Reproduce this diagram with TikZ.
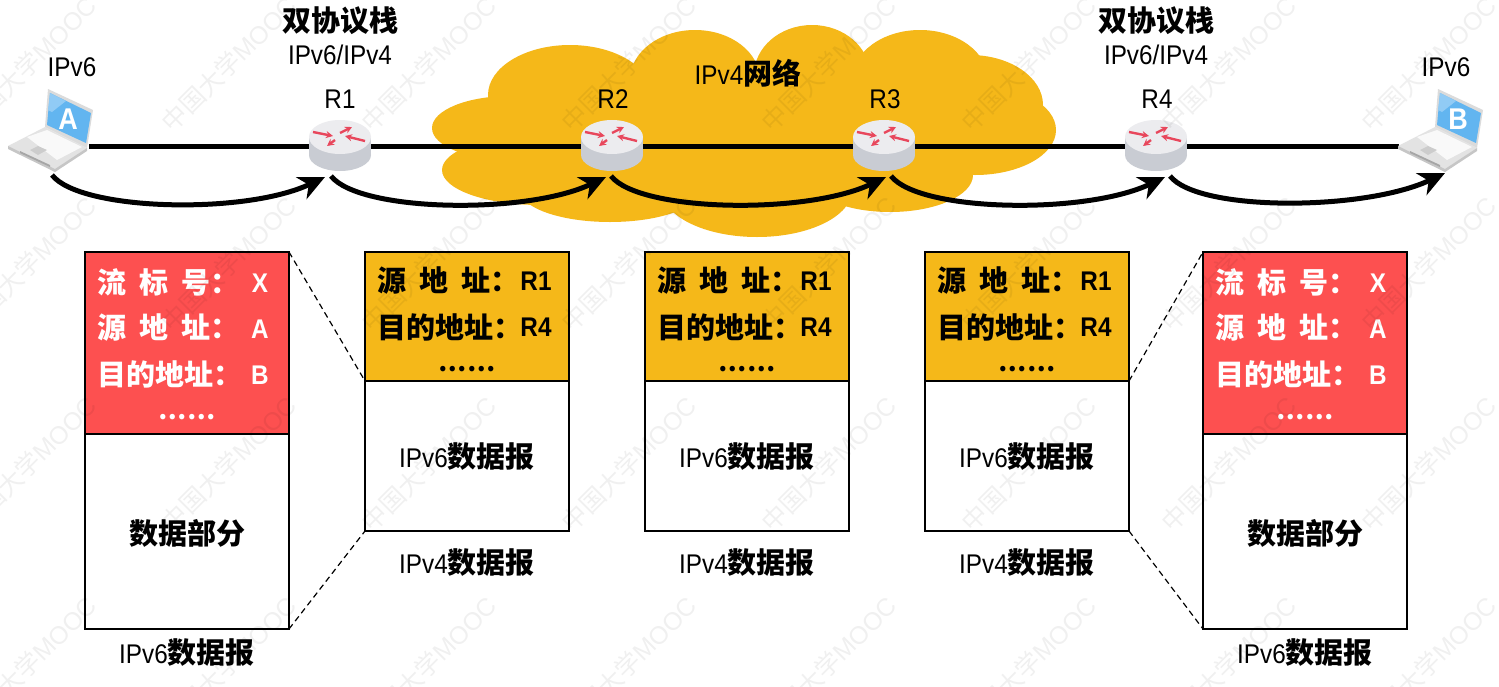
\documentclass[tikz,border=0pt]{standalone}
\usepackage{fontspec}
\setmainfont{Liberation Sans}[FakeStretch=0.9]
\newfontfamily\cjk{Noto Sans CJK SC}
\newfontfamily\wmlat{Liberation Sans}
\usetikzlibrary{arrows.meta}
\definecolor{cloudc}{HTML}{F5B819}
\definecolor{redc}{HTML}{FD5050}
\definecolor{arrowred}{HTML}{E8475C}
\definecolor{topc}{HTML}{ECECEF}
\definecolor{sidec}{HTML}{C9CCD3}
\definecolor{screenc}{HTML}{62B5F0}
\newcommand{\zh}[1]{{\fontsize{29pt}{30pt}\selectfont\cjk\bfseries #1}}
\newcommand{\dotsrow}{{\fontsize{25pt}{30pt}\selectfont\cjk\bfseries ……}}
\newcommand{\fs}{\fontsize{27pt}{30pt}\selectfont}
\newcommand{\gp}{\hspace{13pt}}
\tikzset{
  lbl/.style={inner sep=0pt,font=\fs,text=black},
  wlbl/.style={lbl,text=white},
  hdrbox/.style={draw=black,line width=2.6pt,minimum width=204pt,inner sep=0pt,outer sep=0pt,anchor=north west},
  wire/.style={line width=5pt,black},
  hop/.style={line width=5pt,black,-{Stealth[length=26pt,width=24pt,inset=8pt]}},
  zoomline/.style={line width=1.2pt,black,dash pattern=on 6pt off 4pt},
  rtbox/.style={minimum width=62pt,minimum height=52pt,inner sep=0pt,outer sep=0pt},
  pcbox/.style={minimum width=80pt,minimum height=52pt,inner sep=0pt,outer sep=0pt},
  rarrow/.style={line width=2.4pt,arrowred,-{Stealth[length=7pt,width=7pt]}},
  wm/.style={inner sep=0pt,rotate=45,text=black,opacity=.06,font=\fontsize{25pt}{25pt}\selectfont}
}
\newcommand{\routerart}[1]{%
  \begin{scope}[shift={(#1,146)}]
    \fill[sidec] (-31,-9) rectangle (31,9);
    \fill[sidec] (0,9) ellipse[x radius=31pt,y radius=16pt];
    \fill[topc] (0,-9) ellipse[x radius=31pt,y radius=17pt];
    \draw[rarrow] (-27,-14) -- (-7,-10);
    \draw[rarrow] (0,-13) -- (12,-19);
    \draw[rarrow] (25,-5) -- (5,-10);
    \draw[rarrow] (-5,-6) -- (-13,0);
  \end{scope}}
\newcommand{\laptopart}[3]{%
  \begin{scope}[shift={(#1,0)}]
    \fill[gray!28] (48,89) -- (93,110) -- (87,148) -- (45,127) -- cycle;
    \fill[screenc] (50,93) -- (91,113) -- (86,143) -- (47,125) -- cycle;
    \fill[white!30!screenc] (50,93) -- (66,101) -- (52,112) -- (48,110) -- cycle;
    \fill[gray!22] (8,146) -- (45,127) -- (87,148) -- (55,172) -- cycle;
    \fill[gray!45] (8,146) -- (55,169) -- (87,148) -- (87,151) -- (55,172) -- (8,149) -- cycle;
    \fill[gray!70] (20,151) -- (50,165) -- (50,167) -- (20,153) -- cycle;
    \fill[gray!5] (27,137) -- (47,130) -- (82,147) -- (57,160) -- cycle;
    \fill[gray!40] (30,150) -- (38,146) -- (47,150) -- (38,155) -- cycle;
    \node[inner sep=0pt,text=white] (#2) at (68,119) {\fontsize{30pt}{30pt}\selectfont\bfseries #3};
  \end{scope}}
\begin{document}
\begin{tikzpicture}[x=1pt,y=-1pt]
\useasboundingbox (0,0) rectangle (1499,686);
\fill[white] (0,0) rectangle (1499,686);
% cloud
\fill[cloudc] (510,128) ellipse[x radius=78pt,y radius=32pt];
\fill[cloudc] (540,170) ellipse[x radius=98pt,y radius=35pt];
\fill[cloudc] (570,95) ellipse[x radius=82pt,y radius=50pt];
\fill[cloudc] (695,80) ellipse[x radius=65pt,y radius=50pt];
\fill[cloudc] (812,75) ellipse[x radius=58pt,y radius=50pt];
\fill[cloudc] (920,80) ellipse[x radius=68pt,y radius=50pt];
\fill[cloudc] (970,105) ellipse[x radius=73pt,y radius=50pt];
\fill[cloudc] (975,130) ellipse[x radius=81pt,y radius=45pt];
\fill[cloudc] (890,175) ellipse[x radius=83pt,y radius=37pt];
\fill[cloudc] (757,190) ellipse[x radius=95pt,y radius=47pt];
\fill[cloudc] (610,190) ellipse[x radius=90pt,y radius=32pt];
\fill[cloudc] (500,80) rectangle (980,130);
\fill[cloudc] (540,130) rectangle (960,190);
% placement nodes
\node[pcbox] (pcA) at (49,146) {};
\node[pcbox] (pcB) at (1439,146) {};
\node[rtbox] (r1) at (340,146) {};
\node[rtbox] (r2) at (612,146) {};
\node[rtbox] (r3) at (884,146) {};
\node[rtbox] (r4) at (1156,146) {};
% wires
\draw[wire] (pcA.east) -- (r1.west);
\draw[wire] (r1.east) -- (r2.west);
\draw[wire] (r2.east) -- (r3.west);
\draw[wire] (r3.east) -- (r4.west);
\draw[wire] (r4.east) -- (pcB.west);
% devices
\laptopart{0}{letA}{A}
\laptopart{1390}{letB}{B}
\routerart{340}\routerart{612}\routerart{884}\routerart{1156}
% hops
\draw[hop] ([xshift=3pt,yshift=-3pt]pcA.south) .. controls +(28,36) and +(-80,38) .. ([xshift=-15pt,yshift=-5pt]r1.south);
\draw[hop] ([xshift=-9pt,yshift=-4pt]r1.south) .. controls +(28,36) and +(-80,38) .. ([xshift=-6pt,yshift=-5pt]r2.south);
\draw[hop] ([xshift=-1pt,yshift=-4pt]r2.south) .. controls +(28,36) and +(-80,38) .. ([xshift=2pt,yshift=-5pt]r3.south);
\draw[hop] ([xshift=7pt,yshift=-4pt]r3.south) .. controls +(28,36) and +(-80,38) .. ([xshift=9pt,yshift=-5pt]r4.south);
\draw[hop] ([xshift=14pt,yshift=-4pt]r4.south) .. controls +(28,36) and +(-80,38) .. ([xshift=6pt,yshift=-1pt]pcB.south);
% top labels
\node[lbl] (t1) at (72,67) {IPv6};
\node[lbl] (t2) at (1446,67) {IPv6};
\node[lbl] (d1) at (340,21) {\zh{双协议栈}};
\node[lbl] (d2) at (1156,21) {\zh{双协议栈}};
\node[lbl] (v1) at (340,55) {IPv6/IPv4};
\node[lbl] (v2) at (1156,55) {IPv6/IPv4};
\node[lbl] (n1) at (340,99) {R1};
\node[lbl] (n2) at (613,99) {R2};
\node[lbl] (n3) at (885,99) {R3};
\node[lbl] (n4) at (1157,99) {R4};
\node[lbl] (net) at (748,73) {IPv4\zh{网络}};
% IPv6 packets
\foreach \nm/\x in {p/85,q/1203}{
  \node[hdrbox,fill=redc,minimum height=182pt] (\nm h) at (\x,252) {};
  \node[hdrbox,fill=white,minimum height=195pt] (\nm b) at (\x,434) {};
  \node[wlbl,anchor=west] (\nm a) at (\x+12,282) {\zh{流\gp 标\gp 号：}};
  \node[wlbl] (\nm ax) at (\x+175,283) {\bfseries X};
  \node[wlbl,anchor=west] (\nm c) at (\x+12,328) {\zh{源\gp 地\gp 址：}};
  \node[wlbl] (\nm cx) at (\x+175,329) {\bfseries A};
  \node[wlbl,anchor=west] (\nm d) at (\x+12,374) {\zh{目的地址：}};
  \node[wlbl] (\nm dx) at (\x+175,375) {\bfseries B};
  \node[wlbl] (\nm e) at (\x+102,417) {\dotsrow};
  \node[lbl] (\nm f) at (\x+102,533) {\zh{数据部分}};
  \node[lbl] (\nm g) at (\x+102,653) {IPv6\zh{数据报}};
}
% IPv4 packets
\foreach \nm/\x in {a/365,b/645,c/925}{
  \node[hdrbox,fill=cloudc,minimum height=129pt] (\nm h) at (\x,252) {};
  \node[hdrbox,fill=white,minimum height=150pt] (\nm b) at (\x,381) {};
  \node[lbl,anchor=west] (\nm a) at (\x+12,281) {\zh{源\gp 地\gp 址：}};
  \node[lbl] (\nm ax) at (\x+171,281) {\bfseries R1};
  \node[lbl,anchor=west] (\nm c) at (\x+12,327) {\zh{目的地址：}};
  \node[lbl] (\nm cx) at (\x+171,327) {\bfseries R4};
  \node[lbl] (\nm d) at (\x+102,369) {\dotsrow};
  \node[lbl] (\nm e) at (\x+102,457) {IPv6\zh{数据报}};
  \node[lbl] (\nm f) at (\x+102,563) {IPv4\zh{数据报}};
}
% zoom lines
\draw[zoomline] (ph.north east) -- (ah.south west);
\draw[zoomline] (pb.south east) -- (ab.south west);
\draw[zoomline] (ch.south east) -- (qh.north west);
\draw[zoomline] (cb.south east) -- (qb.south west);
% watermark
\foreach \i in {0,...,7}{
  \foreach \j in {0,...,3}{
    \node[wm] (wm\i\j) at (29+200*\i,64+200*\j) {\cjk 中国大学\wmlat MOOC};
  }
}
\end{tikzpicture}
\end{document}
